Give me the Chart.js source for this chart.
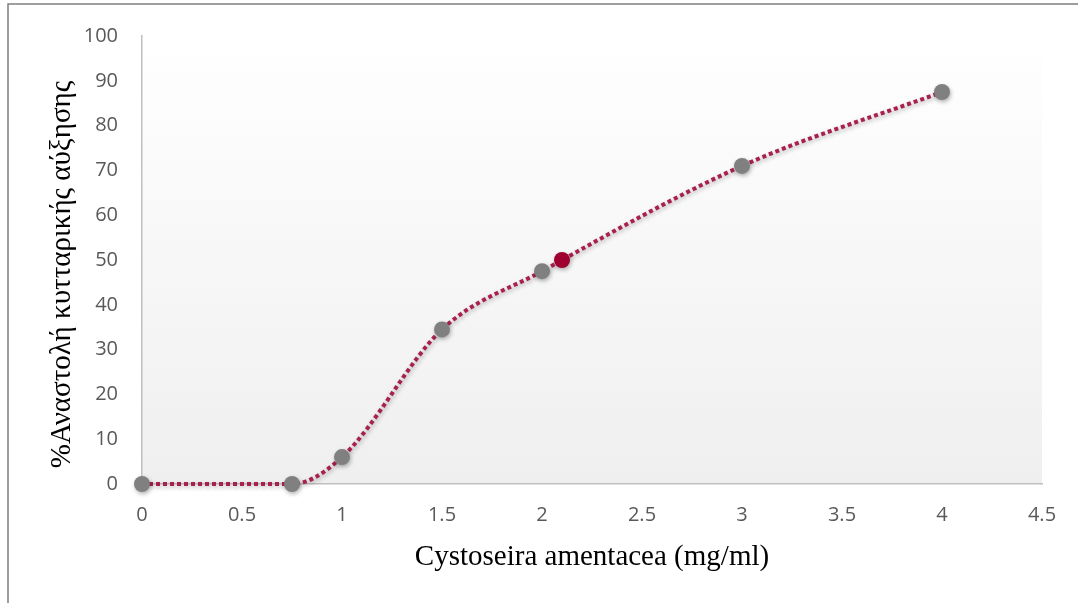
<!DOCTYPE html>
<html>
<head>
<meta charset="utf-8">
<script src="https://cdn.jsdelivr.net/npm/chart.js@4.4.1/dist/chart.umd.min.js"></script>
<style>
    html, body { margin: 0; padding: 0; background: #fff; }
    canvas { display: block; }
</style>
</head>
<body>
<canvas id="chart" width="1078" height="603"></canvas>
<script>
// Data
const doses = [0, 0.75, 1, 1.5, 2, 3, 4];
const inhibition = [0, 0, 6, 34.5, 47.5, 71, 87.5];
const ic50Dose = [2.1];
const ic50Value = [50];

const xTitle = 'Cystoseira amentacea (mg/ml)';
// trailing spaces nudge the rotated title a little lower, as in the original
const yTitle = '%Αναστολή κυτταρικής αύξησης    ';

const toPoints = (xs, ys) => xs.map((x, i) => ({ x: x, y: ys[i] }));

// outer frame + plot area gradient
const backgroundPlugin = {
    id: 'background',
    beforeDraw(chart) {
        const { ctx, chartArea } = chart;
        ctx.save();
        ctx.strokeStyle = '#7f7f7f';
        ctx.lineWidth = 1.5;
        ctx.beginPath();
        ctx.moveTo(8, chart.height);
        ctx.lineTo(8, 4);
        ctx.lineTo(chart.width, 4);
        ctx.stroke();

        const grad = ctx.createLinearGradient(0, chartArea.top, 0, chartArea.bottom);
        grad.addColorStop(0, '#ffffff');
        grad.addColorStop(1, '#efefef');
        ctx.fillStyle = grad;
        ctx.fillRect(chartArea.left, chartArea.top, chartArea.right - chartArea.left, chartArea.bottom - chartArea.top);
        ctx.restore();
    }
};

// soft drop shadow under the markers and line
const shadowPlugin = {
    id: 'shadow',
    beforeDatasetsDraw(chart) {
        const ctx = chart.ctx;
        ctx.save();
        ctx.shadowColor = 'rgba(0,0,0,0.3)';
        ctx.shadowBlur = 4;
        ctx.shadowOffsetX = 1;
        ctx.shadowOffsetY = 2;
    },
    afterDatasetsDraw(chart) {
        chart.ctx.restore();
    }
};

const tickFont = { family: 'Open Sans', size: 20 };
const titleFont = { family: 'Liberation Serif', size: 29 };

new Chart(document.getElementById('chart'), {
    type: 'scatter',
    data: {
        datasets: [{
            data: toPoints(ic50Dose, ic50Value),
            backgroundColor: '#a0002f',
            pointBackgroundColor: '#a0002f',
            pointBorderWidth: 0,
            pointRadius: 8,
            showLine: false,
            clip: false
        }, {
            data: toPoints(doses, inhibition),
            showLine: true,
            cubicInterpolationMode: 'monotone',
            borderColor: '#a8204f',
            borderWidth: 4,
            borderDash: [4, 3],
            borderCapStyle: 'butt',
            backgroundColor: '#808080',
            pointBackgroundColor: '#808080',
            pointBorderWidth: 0,
            pointRadius: 8,
            clip: false
        }]
    },
    options: {
        responsive: false,
        animation: false,
        layout: { padding: { top: 33, right: 36, left: 0, bottom: 0 } },
        plugins: {
            legend: { display: false },
            tooltip: { enabled: false }
        },
        scales: {
            x: {
                type: 'linear',
                min: 0,
                max: 4.5,
                grid: { display: false, drawTicks: false },
                border: { display: true, color: '#bfbfbf', width: 1.5 },
                ticks: {
                    stepSize: 0.5,
                    padding: 19,
                    color: '#595959',
                    font: tickFont,
                    callback: (v) => String(+v.toFixed(1))
                },
                title: {
                    display: true,
                    text: xTitle,
                    color: '#000',
                    font: titleFont,
                    padding: { top: 0, bottom: 28 }
                },
                afterFit: (s) => { s.height = 119; }
            },
            y: {
                min: 0,
                max: 100,
                grid: { display: false, drawTicks: false },
                border: { display: true, color: '#bfbfbf', width: 1.5 },
                ticks: {
                    stepSize: 10,
                    padding: 24,
                    color: '#595959',
                    font: tickFont
                },
                title: {
                    display: true,
                    text: yTitle,
                    color: '#000',
                    font: titleFont,
                    padding: { top: 45, bottom: 0 }
                },
                afterFit: (s) => { s.width = 142; }
            }
        }
    },
    plugins: [backgroundPlugin, shadowPlugin]
});
</script>
</body>
</html>
